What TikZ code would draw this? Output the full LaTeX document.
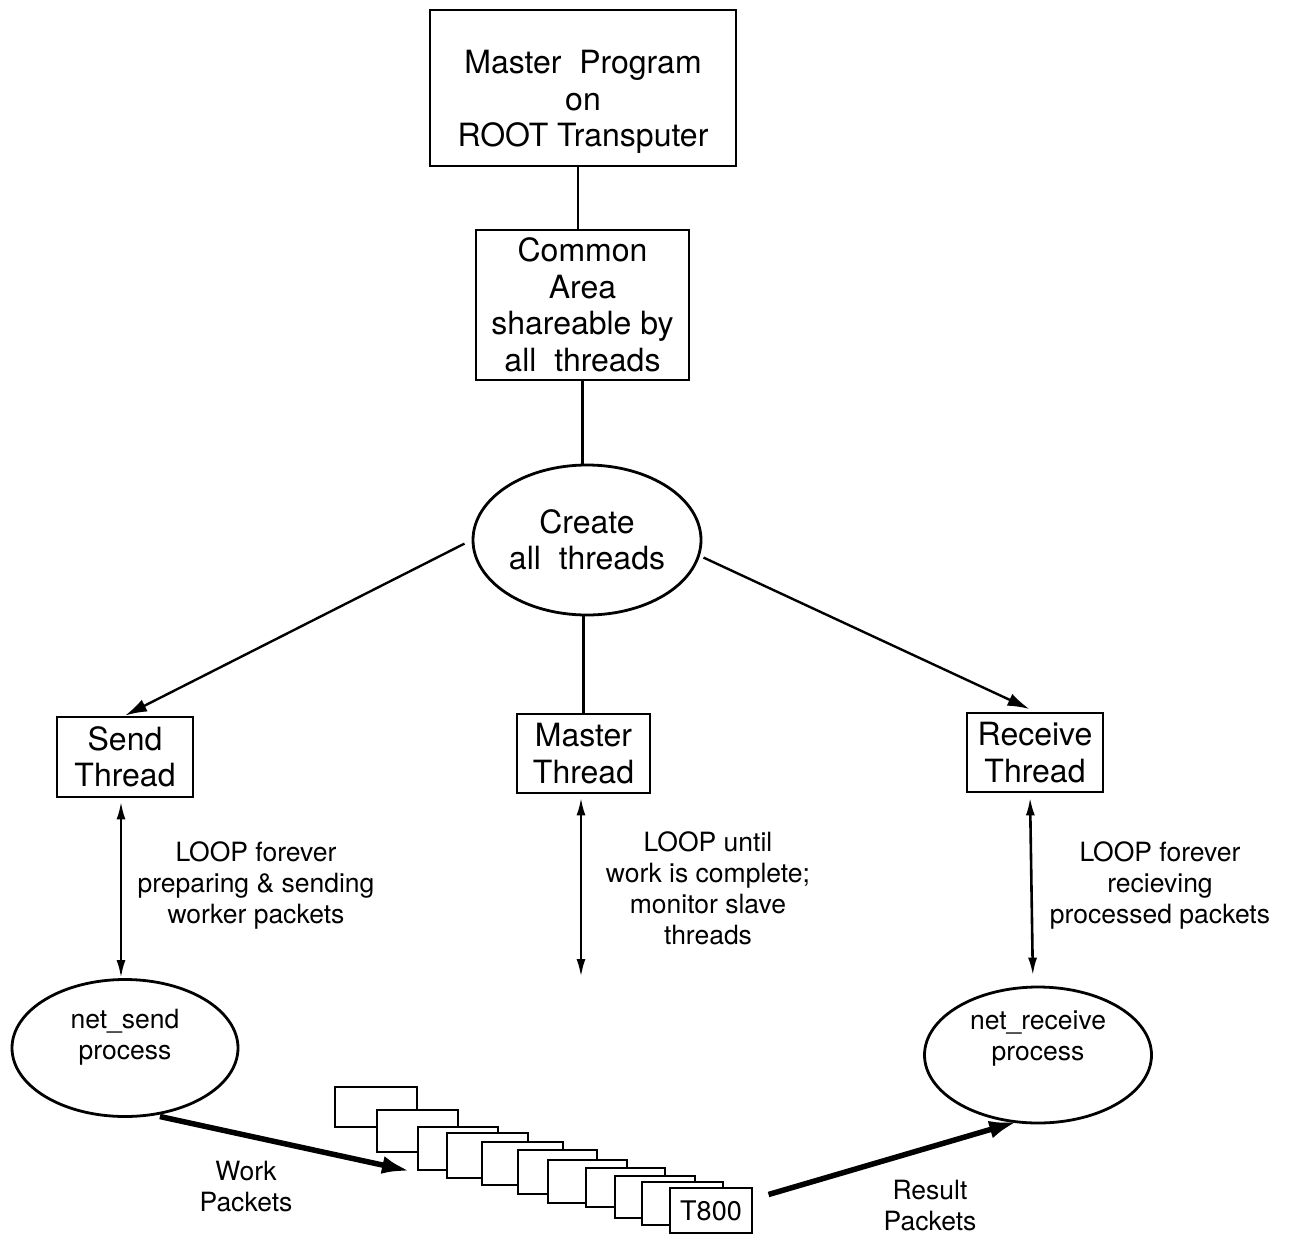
\documentclass[tikz,border=0pt]{standalone}
\usepackage{fontspec}
\setmainfont{TeX Gyre Heros}
\usetikzlibrary{arrows.meta,shapes.geometric,calc}
\begin{document}
\begin{tikzpicture}[x=1pt,y=-1pt,
  big/.style={font=\fontsize{32}{36.5}\selectfont, align=center, inner sep=0},
  small/.style={font=\fontsize{26.5}{31}\selectfont, align=center, inner sep=0},
  box/.style={draw, line width=2.8pt, inner sep=0, rectangle},
  oval/.style={draw, ellipse, line width=2.8pt, inner sep=0},
  pkt/.style={draw, fill=white, line width=2.4pt},
  conn/.style={line width=2.4pt},
  arr/.style={line width=2.4pt, -{Latex[length=22pt,width=13pt]}},
  dbl/.style={line width=2.6pt, {Latex[length=18pt,width=9pt]}-{Latex[length=18pt,width=9pt]}},
  thick arr/.style={line width=5.5pt, -{Latex[length=28pt,width=18pt]}}]
\useasboundingbox (0,0) rectangle (1292,1236);

% top of the hierarchy
\node[box, minimum width=306pt, minimum height=156pt] (prog) at (583,88) {};
\node[big] (progtext) at (583,102) {Master\ \ Program\\on\\ROOT Transputer};
\node[box, minimum width=213pt, minimum height=150pt, big] (common) at (582.5,305) {Common\\Area\\shareable by\\all\ \ threads};
\node[oval, minimum width=228pt, minimum height=150pt, big] (create) at (587,540) {Create\\all\ \ threads};

% the three threads
\node[box, minimum width=136pt, minimum height=80pt, big] (send) at (125,757) {Send\\Thread};
\node[box, minimum width=133pt, minimum height=79pt, big] (mthread) at (583.5,753.5) {Master\\Thread};
\node[box, minimum width=136pt, minimum height=79pt, big] (recv) at (1035,752.5) {Receive\\Thread};

% network processes
\node[oval, minimum width=226pt, minimum height=137pt] (nsend) at (125,1048) {};
\node[small] (nsendtext) at (125,1037) {net\_send\\process};
\node[oval, minimum width=227pt, minimum height=136pt] (nrecv) at (1038,1055) {};
\node[small] (nrecvtext) at (1038,1039) {net\_receive\\process};

% loop descriptions
\node[small] (sendloop) at (256,885) {LOOP forever\\preparing \& sending\\worker packets};
\node[small] (masterloop) at (708,888) {LOOP until\\work is complete;\\monitor slave\\threads};
\node[small] (recvloop) at (1160,885) {LOOP forever\\recieving\\processed packets};
\node[small] (worklbl) at (246,1187) {Work\\Packets};
\node[small] (resultlbl) at (930,1206) {Result\\Packets};

% stack of transputer boards
\node[pkt, minimum width=82pt, minimum height=40pt, inner sep=0] (p1) at (376,1107) {};
\node[pkt, minimum width=81pt, minimum height=42pt, inner sep=0] (p2) at (417.5,1131) {};
\node[pkt, minimum width=80pt, minimum height=43pt, inner sep=0] (p3) at (458,1148.5) {};
\node[pkt, minimum width=81pt, minimum height=45pt, inner sep=0] (p4) at (487.5,1155.5) {};
\node[pkt, minimum width=81pt, minimum height=43pt, inner sep=0] (p5) at (522.5,1163.5) {};
\node[pkt, minimum width=79pt, minimum height=44pt, inner sep=0] (p6) at (557.5,1172) {};
\node[pkt, minimum width=79pt, minimum height=43pt, inner sep=0] (p7) at (587.5,1181.5) {};
\node[pkt, minimum width=79pt, minimum height=39pt, inner sep=0] (p8) at (625.5,1187.5) {};
\node[pkt, minimum width=80pt, minimum height=42pt, inner sep=0] (p9) at (655,1197) {};
\node[pkt, minimum width=81pt, minimum height=43pt, inner sep=0] (p10) at (682.5,1203.5) {};
\node[pkt, minimum width=82pt, minimum height=45pt, inner sep=0, font=\fontsize{27}{30}\selectfont] (p11) at (711,1210.5) {T800};

% connectors
\draw[conn] ([xshift=-5pt]prog.south) -- ([xshift=-4.5pt]common.north);
\draw[conn] (common.south) -- ([xshift=-4.5pt]create.north);
\draw[conn] (create.south -| mthread.north) -- (mthread.north);
\draw[arr, shorten <=8pt] (create.west) -- (send.north);
\draw[arr, shorten <=4pt, shorten >=6pt] (create.-8) -- (recv.north);

\coordinate (mend) at (581,977);
\draw[dbl, shorten <=3pt] ([xshift=-4pt]send.south) -- ([xshift=-4pt]nsend.north);
\draw[dbl, shorten <=3pt] ([xshift=-2.5pt]mthread.south) -- (mend);
\draw[dbl, shorten <=4pt, shorten >=10pt] ([xshift=-5pt]recv.south) -- ([xshift=-5pt]nrecv.north);

\coordinate (wend) at (410,1171);
\draw[thick arr, shorten <=5pt] (nsend.-66) -- (wend);
\draw[thick arr, shorten <=16pt, shorten >=-4pt] (p11.east |- 1199,1199) -- (nrecv.-110);
\end{tikzpicture}
\end{document}
